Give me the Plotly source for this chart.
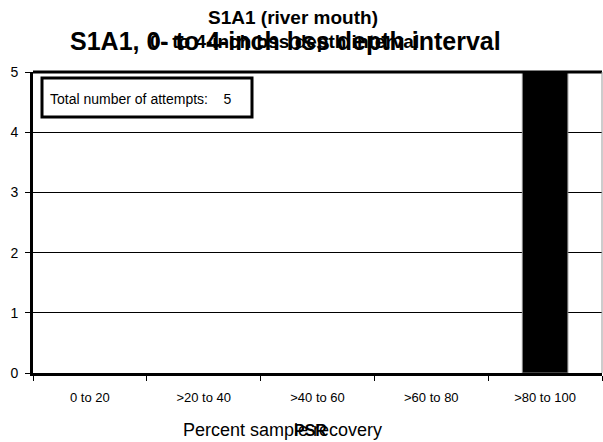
import plotly.graph_objects as go

categories = ["0 to 20", ">20 to 40", ">40 to 60", ">60 to 80", ">80 to 100"]
counts = [0, 0, 0, 0, 5]
y_ticks = [0, 1, 2, 3, 4, 5]
attempts = 5

L, R, T, B = 33, 602, 72, 373
W, H = 603, 442

def px(x):
    return (x - L) / (R - L)

def py(y):
    return (B - y) / (B - T)

fig = go.Figure()
fig.add_trace(go.Bar(
    x=categories, y=counts, width=0.4,
    marker=dict(color="black",
                line=dict(color="#888888", width=[1 if c > 0 else 0 for c in counts])),
))

font = "Liberation Sans, Arial, sans-serif"
fig.update_layout(
    width=W, height=H,
    margin=dict(l=L, r=W - R, t=T, b=H - B, autoexpand=False),
    paper_bgcolor="white", plot_bgcolor="white",
    showlegend=False,
    font=dict(family=font, color="black"),
)
fig.update_xaxes(
    type="category", range=[-0.5, 4.5], automargin=False,
    showline=True, linecolor="black", linewidth=3,
    ticks="outside", tickson="boundaries", ticklen=5, tickcolor="black", tickwidth=1,
    tickfont=dict(size=13), ticklabelstandoff=10, showgrid=False,
)
fig.update_yaxes(
    range=[0, 5], tickvals=y_ticks, automargin=False,
    showline=True, linecolor="black", linewidth=3,
    ticks="outside", ticklen=5, tickcolor="black", tickwidth=1,
    tickfont=dict(size=14), ticklabelstandoff=4,
    showgrid=True, gridcolor="black", gridwidth=1, zeroline=False,
)

# top border and right edge
fig.add_shape(type="line", xref="paper", yref="paper", x0=0, x1=1, y0=1, y1=1,
              line=dict(color="black", width=3))
fig.add_shape(type="line", xref="paper", yref="paper", x0=1, x1=1, y0=0, y1=1,
              line=dict(color="#999999", width=1))

# text box
fig.add_shape(type="rect", xref="paper", yref="paper",
              x0=px(42), x1=px(252), y0=py(117), y1=py(78),
              line=dict(color="black", width=3), fillcolor="white")
fig.add_annotation(xref="paper", yref="paper", x=px(48), y=py(99),
                   xanchor="left", yanchor="middle", showarrow=False,
                   text="Total number of attempts:&nbsp;&nbsp;&nbsp;&nbsp;%d" % attempts,
                   font=dict(size=14))

# titles
fig.add_annotation(xref="paper", yref="paper", x=px(293), y=py(18),
                   xanchor="center", yanchor="middle", showarrow=False,
                   text="<b>S1A1 (river mouth)</b>", font=dict(size=19))
fig.add_annotation(xref="paper", yref="paper", x=px(284), y=py(41),
                   xanchor="center", yanchor="middle", showarrow=False,
                   text="<b>0- to 4-inch bss depth interval</b>", font=dict(size=19))
fig.add_annotation(xref="paper", yref="paper", x=px(285), y=py(41),
                   xanchor="center", yanchor="middle", showarrow=False,
                   text="<b>S1A1, 0- to 4-inch bss depth interval</b>", font=dict(size=25))

# x-axis titles (overlapping as in the reference)
fig.add_annotation(xref="paper", yref="paper", x=px(282), y=py(430),
                   xanchor="center", yanchor="middle", showarrow=False,
                   text="Percent sample recovery", font=dict(size=18))
fig.add_annotation(xref="paper", yref="paper", x=px(310), y=py(430),
                   xanchor="center", yanchor="middle", showarrow=False,
                   text="<b>PSR</b>", font=dict(size=16))

fig.write_html("out.html",
               config={"displayModeBar": False},
               post_script="document.body.style.margin='0px';document.body.style.overflow='hidden';")
